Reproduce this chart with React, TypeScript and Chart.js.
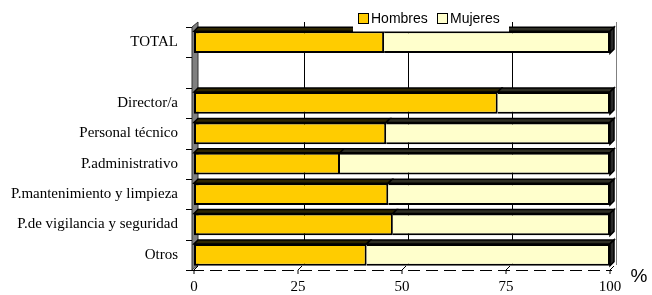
import React, { useEffect, useRef } from 'react';
import { Chart, registerables } from 'chart.js';

Chart.register(...registerables);

const categories = [
  'TOTAL',
  '',
  'Director/a',
  'Personal técnico',
  'P.administrativo',
  'P.mantenimiento y limpieza',
  'P.de vigilancia y seguridad',
  'Otros',
];
const hombres = [45.7, null, 73.0, 46.2, 35.1, 46.7, 47.8, 41.5];
const mujeres = [54.3, null, 27.0, 53.8, 64.9, 53.3, 52.2, 58.5];
const seriesLabels = ['Hombres', 'Mujeres'];
const seriesColors = ['#FFCC00', '#FFFFCC'];
const topFaceColors = ['#2e2600', '#2e2e24'];
const xMin = 0;
const xMax = 100;
const xStep = 25;
const unitLabel = '%';

const DX = 6;
const DY = -5;
const BD = 4;
const WALL_OFF = -2;

const threeD = {
  id: 'threeD',
  beforeDatasetsDraw(chart: any) {
    const { ctx, chartArea: a, scales } = chart;
    const x = scales.x;
    ctx.save();
    // left wall
    const wl = a.left + WALL_OFF;
    ctx.beginPath();
    ctx.moveTo(wl, a.top);
    ctx.lineTo(wl + DX, a.top + DY);
    ctx.lineTo(wl + DX, a.bottom + DY);
    ctx.lineTo(wl, a.bottom);
    ctx.closePath();
    ctx.fillStyle = '#808080';
    ctx.fill();
    ctx.strokeStyle = '#333';
    ctx.lineWidth = 1;
    ctx.stroke();
    // back grid lines
    for (let v = xMin + xStep; v <= xMax; v += xStep) {
      const px = Math.round(x.getPixelForValue(v) + DX) + 0.5;
      ctx.beginPath();
      ctx.moveTo(px, a.top + DY);
      ctx.lineTo(px, a.bottom + DY);
      ctx.strokeStyle = v === xMax ? '#808080' : '#000';
      ctx.lineWidth = 1;
      ctx.stroke();
    }
    // y tick marks
    const n = categories.length;
    for (let i = 0; i <= n; i++) {
      const yy = Math.round(a.top + (i * (a.bottom - a.top)) / n) + 0.5;
      ctx.beginPath();
      ctx.moveTo(wl - 6, yy);
      ctx.lineTo(wl, yy);
      ctx.strokeStyle = '#000';
      ctx.stroke();
    }
    // floor front edge dashed
    ctx.beginPath();
    ctx.setLineDash([12, 6]);
    ctx.moveTo(wl, Math.round(a.bottom) + 0.5);
    ctx.lineTo(a.right + 2, Math.round(a.bottom) + 0.5);
    ctx.strokeStyle = '#000';
    ctx.stroke();
    ctx.setLineDash([]);
    // x tick marks
    for (let v = xMin; v <= xMax; v += xStep) {
      const px = x.getPixelForValue(v);
      ctx.beginPath();
      ctx.moveTo(px, a.bottom + 4);
      ctx.lineTo(px, a.bottom);
      ctx.lineTo(px + 4, a.bottom - 4);
      ctx.stroke();
    }
    ctx.restore();
  },
  afterDatasetsDraw(chart: any) {
    const { ctx } = chart;
    ctx.save();
    ctx.lineWidth = 1.5;
    ctx.strokeStyle = '#000';
    const nDs = chart.data.datasets.length;
    for (let d = 0; d < nDs; d++) {
      const meta = chart.getDatasetMeta(d);
      meta.data.forEach((el: any, i: number) => {
        const raw = chart.data.datasets[d].data[i];
        if (raw === null || raw === undefined) return;
        const p = el.getProps(['x', 'base', 'y', 'height'], true);
        const left = Math.min(p.x, p.base);
        const right = Math.max(p.x, p.base);
        const top = p.y - p.height / 2;
        const bottom = p.y + p.height / 2;
        ctx.beginPath();
        ctx.moveTo(left, top);
        ctx.lineTo(left + BD, top - BD);
        ctx.lineTo(right + BD, top - BD);
        ctx.lineTo(right, top);
        ctx.closePath();
        ctx.fillStyle = topFaceColors[d];
        ctx.fill();
        ctx.stroke();
        if (d === nDs - 1) {
          ctx.beginPath();
          ctx.moveTo(right, top);
          ctx.lineTo(right + BD, top - BD);
          ctx.lineTo(right + BD, bottom - BD);
          ctx.lineTo(right, bottom);
          ctx.closePath();
          ctx.fillStyle = '#2a2a2a';
          ctx.fill();
          ctx.stroke();
        }
      });
    }
    ctx.restore();
  },
  afterDraw(chart: any) {
    const { ctx } = chart;
    ctx.save();
    // legend
    ctx.fillStyle = '#fff';
    ctx.fillRect(353, 5, 156, 26.5);
    const itemX = [358, 437];
    ctx.font = '14px "Liberation Sans", Arial, sans-serif';
    ctx.textBaseline = 'middle';
    ctx.textAlign = 'left';
    chart.data.datasets.forEach((ds: any, i: number) => {
      const bx = itemX[i];
      ctx.fillStyle = ds.backgroundColor;
      ctx.fillRect(bx, 13, 10, 11);
      ctx.strokeStyle = '#000';
      ctx.lineWidth = 1;
      ctx.strokeRect(bx + 0.5, 13.5, 10, 10);
      ctx.fillStyle = '#000';
      ctx.fillText(ds.label, bx + 13, 19);
    });
    // unit label
    ctx.font = '19px "Liberation Sans", Arial, sans-serif';
    ctx.textAlign = 'center';
    ctx.fillStyle = '#000';
    ctx.fillText(unitLabel, 639, 277);
    ctx.restore();
  },
};

export default function App() {
  const ref = useRef<HTMLCanvasElement | null>(null);
  useEffect(() => {
    if (!ref.current) return;
    const chart = new Chart(ref.current, {
      type: 'bar',
      data: {
        labels: categories,
        datasets: [
          {
            label: seriesLabels[0],
            data: hombres,
            backgroundColor: seriesColors[0],
            borderColor: '#000',
            borderWidth: 2,
            borderSkipped: false,
            barPercentage: 0.72,
            categoryPercentage: 1,
          },
          {
            label: seriesLabels[1],
            data: mujeres,
            backgroundColor: seriesColors[1],
            borderColor: '#000',
            borderWidth: 2,
            borderSkipped: 'left',
            barPercentage: 0.72,
            categoryPercentage: 1,
          },
        ],
      },
      options: {
        indexAxis: 'y',
        responsive: false,
        animation: false,
        layout: { padding: { top: 27, right: 42, left: 0, bottom: 0 } },
        plugins: {
          legend: { display: false },
          tooltip: { enabled: false },
        },
        scales: {
          x: {
            stacked: true,
            min: xMin,
            max: xMax,
            grid: { display: false, drawTicks: false },
            border: { display: false },
            ticks: {
              stepSize: xStep,
              padding: 8,
              color: '#000',
              font: { family: '"Liberation Serif", "Times New Roman", serif', size: 15 },
              maxRotation: 0,
            },
            afterFit(scale: any) {
              scale.height = 22;
            },
          },
          y: {
            stacked: true,
            grid: { display: false, drawTicks: false },
            border: { display: false },
            ticks: {
              padding: 16,
              color: '#000',
              autoSkip: false,
              font: { family: '"Liberation Serif", "Times New Roman", serif', size: 15 },
            },
            afterFit(scale: any) {
              scale.width = 194;
            },
          },
        },
      },
      plugins: [threeD],
    });
    return () => chart.destroy();
  }, []);
  return (
    <div style={{ position: 'fixed', left: 0, top: 0, width: 652, height: 295, background: '#fff' }}>
      <canvas ref={ref} width={652} height={295} style={{ display: 'block' }} />
    </div>
  );
}
